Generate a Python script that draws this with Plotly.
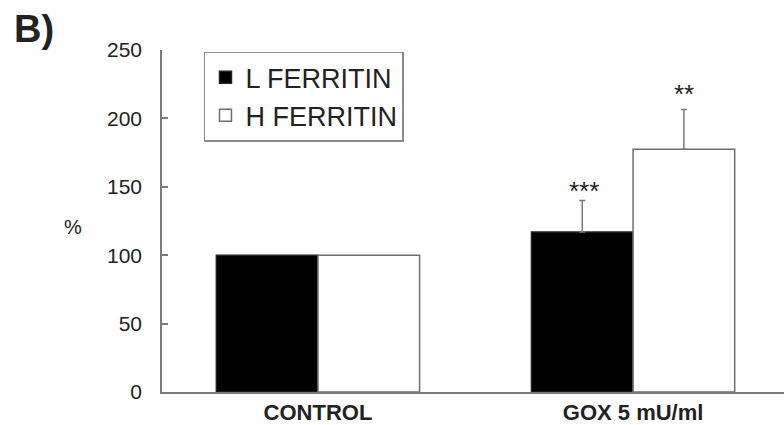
import plotly.graph_objects as go

# Ferritin levels, % of control
groups = ["CONTROL", "GOX 5 mU/ml"]
l_ferritin = [100, 117]
h_ferritin = [100, 177.5]
l_err = [None, 23]
h_err = [None, 29]
l_sig = ["", "***"]
h_sig = ["", "**"]
y_ticks = [0, 50, 100, 150, 200, 250]

FONT = "Liberation Sans, Arial, sans-serif"
AXIS = "#7a7a7a"
TEXT = "#222222"


def err_values(vals):
    # non-numeric entries make plotly.js skip the error bar for that bar
    return ["none" if v is None else v for v in vals]


def err_minus(vals):
    return ["none" if v is None else 0 for v in vals]


fig = go.Figure()
fig.add_trace(go.Bar(
    x=groups, y=l_ferritin, name="L FERRITIN", legendgroup="L",
    marker=dict(color="#000000", line=dict(color="#222222", width=1.5)),
    error_y=dict(type="data", array=err_values(l_err), arrayminus=err_minus(l_err),
                 symmetric=False, color=AXIS, thickness=1.5, width=3),
))
fig.add_trace(go.Bar(
    x=groups, y=h_ferritin, name="H FERRITIN", legendgroup="H",
    marker=dict(color="#ffffff", line=dict(color="#6e6e6e", width=1.5)),
    error_y=dict(type="data", array=err_values(h_err), arrayminus=err_minus(h_err),
                 symmetric=False, color=AXIS, thickness=1.5, width=3),
))

# significance marks above the error bars
for g, v, e, s in zip(groups, l_ferritin, l_err, l_sig):
    if s:
        fig.add_annotation(x=g, y=v + e, xref="x", yref="y", text=s, showarrow=False,
                           xshift=-49, yshift=-8, yanchor="bottom",
                           font=dict(family=FONT, size=26, color=TEXT))
for g, v, e, s in zip(groups, h_ferritin, h_err, h_sig):
    if s:
        fig.add_annotation(x=g, y=v + e, xref="x", yref="y", text=s, showarrow=False,
                           xshift=51, yshift=-1, yanchor="bottom",
                           font=dict(family=FONT, size=26, color=TEXT))

# panel letter and y-axis label
fig.add_annotation(x=-150 / 622, y=1.06, xref="paper", yref="paper", text="<b>B)</b>",
                   showarrow=False, xanchor="left", yanchor="middle",
                   font=dict(family=FONT, size=38, color=TEXT))
fig.add_annotation(x=-89 / 622, y=(394 - 228) / 343.5, xref="paper", yref="paper", text="%",
                   showarrow=False, xanchor="center", yanchor="middle",
                   font=dict(family=FONT, size=20, color=TEXT))

fig.update_layout(
    width=784, height=425,
    margin=dict(l=162, r=0, t=50, b=31),
    paper_bgcolor="white", plot_bgcolor="white",
    font=dict(family=FONT, color=TEXT, size=19),
    barmode="group", bargap=0.355, bargroupgap=0,
    showlegend=True,
    legend=dict(x=0.0675, y=0.995, xanchor="left", yanchor="top",
                bordercolor="#8a8a8a", borderwidth=1.5, bgcolor="white",
                font=dict(family=FONT, size=27, color=TEXT),
                traceorder="grouped", tracegroupgap=0),
    xaxis=dict(range=[-0.495, 1.479], showline=True, linecolor=AXIS, linewidth=1.5,
               ticks="", showgrid=False, zeroline=False,
               tickfont=dict(family=FONT, size=22, color=TEXT),
               tickprefix="<b>", ticksuffix="</b>"),
    yaxis=dict(range=[0, 250], tickvals=y_ticks, showline=True, linecolor=AXIS, linewidth=1.5,
               ticks="inside", ticklen=6, tickcolor=AXIS, tickwidth=1.5,
               showgrid=False, zeroline=False, ticklabelstandoff=14,
               tickfont=dict(family=FONT, size=21, color=TEXT)),
)

fig.write_html("out.html")
